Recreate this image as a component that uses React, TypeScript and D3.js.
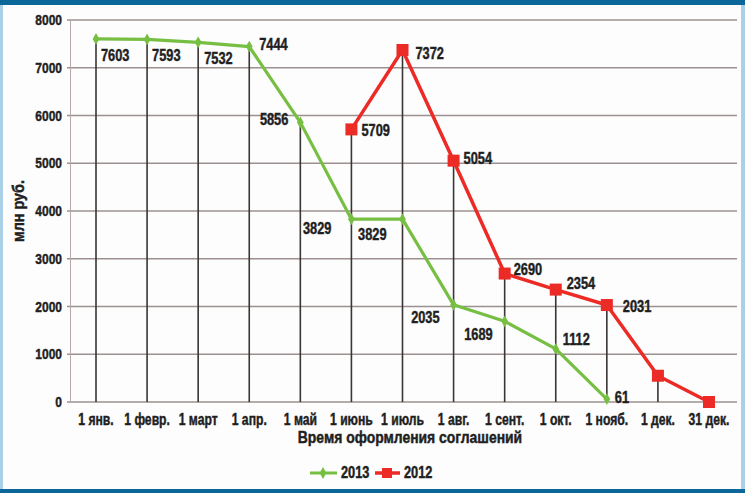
import React, { useEffect, useRef } from 'react';
import * as d3 from 'd3';

// categories (x axis)
const categories = ['1 янв.', '1 февр.', '1 март', '1 апр.', '1 май', '1 июнь', '1 июль', '1 авг.', '1 сент.', '1 окт.', '1 нояб.', '1 дек.', '31 дек.'];

// series values, null = no point
const values2013: (number | null)[] = [7603, 7593, 7532, 7444, 5856, 3829, 3829, 2035, 1689, 1112, 61, null, null];
const values2012: (number | null)[] = [null, null, null, null, null, 5709, 7372, 5054, 2690, 2354, 2031, 550, 0];

// which 2012 points carry a value label
const labeled2012 = [false, false, false, false, false, true, true, true, true, true, true, false, false];

const yTicks = [0, 1000, 2000, 3000, 4000, 5000, 6000, 7000, 8000];

// label placement relative to the point: [dx, dy, anchor]
const labelPos2013: [number, number, string][] = [
  [5, 22, 'start'], [5, 22, 'start'], [6, 22, 'start'], [10, 3, 'start'], [-12, 3, 'end'],
  [-20, 15, 'end'], [-16, 21, 'end'], [-14, 18, 'end'], [-12, 19, 'end'], [7, -4, 'start'], [8, 4, 'start'],
];
const labelPos2012: [number, number, string][] = [
  [0, 0, 'start'], [0, 0, 'start'], [0, 0, 'start'], [0, 0, 'start'], [0, 0, 'start'],
  [10, 7, 'start'], [13, 9, 'start'], [10, 3, 'start'], [9, 1, 'start'], [11, -1, 'start'], [16, 7, 'start'],
];

const GREEN = '#76bf43';
const RED = '#ec2a26';
const INK = '#1f1f1f';
const FONT = "'Liberation Sans', Arial, sans-serif";
const SQUEEZE = 0.8; // condensed look

type Sel = d3.Selection<any, unknown, null, undefined>;

// bold, horizontally condensed text
function addText(g: Sel, px: number, py: number, str: string | number, size: number, anchor = 'start', extra = '', squeeze = SQUEEZE) {
  return g.append('text')
    .attr('transform', `translate(${px},${py}) ${extra} scale(${squeeze},1)`)
    .attr('text-anchor', anchor)
    .attr('font-family', FONT).attr('font-weight', 'bold').attr('font-size', size)
    .attr('fill', INK).attr('stroke', INK).attr('stroke-width', 0.45)
    .text(str);
}

const Chart: React.FC = () => {
  const ref = useRef<SVGSVGElement>(null);

  useEffect(() => {
    const W = 745, H = 493;
    const svg = d3.select(ref.current).attr('width', W).attr('height', H);
    svg.selectAll('*').remove();

    // frame
    svg.append('rect').attr('width', W).attr('height', H).attr('fill', '#fdfdfd');
    svg.append('rect').attr('x', 0).attr('y', 0).attr('width', 3).attr('height', H).attr('fill', '#a9d0e6');
    svg.append('rect').attr('x', W - 4).attr('y', 0).attr('width', 4).attr('height', H).attr('fill', '#a9d0e6');
    svg.append('rect').attr('x', 0).attr('y', 0).attr('width', W).attr('height', 5).attr('fill', '#0b6799');
    svg.append('rect').attr('x', 0).attr('y', H - 4).attr('width', W).attr('height', 4).attr('fill', '#0b6799');

    const x = d3.scalePoint<string>().domain(categories).range([96, 709]);
    const y = d3.scaleLinear().domain([0, 8000]).range([402, 20]);

    const grid = svg.append('g');
    // horizontal gridlines
    grid.selectAll('line.h')
      .data(yTicks)
      .join('line')
      .attr('x1', 67).attr('x2', 737)
      .attr('y1', d => y(d)).attr('y2', d => y(d))
      .attr('stroke', '#9d9090').attr('stroke-width', 1.6);
    // left axis line
    grid.append('line')
      .attr('x1', 70.5).attr('x2', 70.5)
      .attr('y1', y(8000)).attr('y2', y(0))
      .attr('stroke', '#b3a8a8').attr('stroke-width', 1);

    // y tick labels
    const yl = svg.append('g');
    yTicks.forEach(t => addText(yl, 62, y(t) + 5, t, 15, 'end'));

    // drop lines from the highest point of each category
    const tops = categories.map((c, i) => {
      const vs = [values2013[i], values2012[i]].filter(v => v != null) as number[];
      return { c, v: vs.length ? d3.max(vs)! : 0 };
    });
    svg.append('g').selectAll('line')
      .data(tops.filter(d => d.v > 0))
      .join('line')
      .attr('x1', d => x(d.c)!).attr('x2', d => x(d.c)!)
      .attr('y1', d => y(d.v)).attr('y2', y(0))
      .attr('stroke', '#3b3535').attr('stroke-width', 1.6);

    const line = d3.line<{ c: string; v: number | null }>()
      .defined(d => d.v != null)
      .x(d => x(d.c)!)
      .y(d => y(d.v as number));

    const s2013 = categories.map((c, i) => ({ c, v: values2013[i] }));
    const s2012 = categories.map((c, i) => ({ c, v: values2012[i] }));

    // 2013 series
    svg.append('path').datum(s2013)
      .attr('fill', 'none').attr('stroke', GREEN).attr('stroke-width', 3.2)
      .attr('stroke-linejoin', 'round').attr('d', line);
    svg.append('g').selectAll('path')
      .data(s2013.filter(d => d.v != null))
      .join('path')
      .attr('transform', d => `translate(${x(d.c)},${y(d.v as number)})`)
      .attr('d', d3.symbol(d3.symbolDiamond, 40)())
      .attr('fill', GREEN);

    // 2012 series
    svg.append('path').datum(s2012)
      .attr('fill', 'none').attr('stroke', RED).attr('stroke-width', 3.5)
      .attr('stroke-linejoin', 'round').attr('d', line);
    svg.append('g').selectAll('rect')
      .data(s2012.filter(d => d.v != null))
      .join('rect')
      .attr('x', d => x(d.c)! - 6).attr('y', d => y(d.v as number) - 6)
      .attr('width', 12).attr('height', 12)
      .attr('fill', RED);

    // value labels
    const labels = svg.append('g');
    s2013.forEach((d, i) => {
      if (d.v == null) return;
      const [dx, dy, anchor] = labelPos2013[i];
      addText(labels, x(d.c)! + dx, y(d.v) + dy, d.v, 16, anchor);
    });
    s2012.forEach((d, i) => {
      if (d.v == null || !labeled2012[i]) return;
      const [dx, dy, anchor] = labelPos2012[i];
      addText(labels, x(d.c)! + dx, y(d.v) + dy, d.v, 16, anchor);
    });

    // x tick labels
    const xl = svg.append('g');
    categories.forEach(c => addText(xl, x(c)!, 425, c, 16, 'middle', '', 0.76));

    // axis titles
    addText(svg, 410, 443, 'Время оформления соглашений', 16, 'middle', '', 0.87);
    addText(svg, 24, (y(0) + y(8000)) / 2, 'млн руб.', 16, 'middle', 'rotate(-90)', 0.9);

    // legend
    const lg = svg.append('g');
    lg.append('line').attr('x1', 310).attr('x2', 337).attr('y1', 473).attr('y2', 473)
      .attr('stroke', GREEN).attr('stroke-width', 3);
    lg.append('path').attr('transform', 'translate(323,473)')
      .attr('d', d3.symbol(d3.symbolDiamond, 40)()).attr('fill', GREEN);
    addText(lg, 341, 478, '2013', 16);
    lg.append('line').attr('x1', 375).attr('x2', 400).attr('y1', 473).attr('y2', 473)
      .attr('stroke', RED).attr('stroke-width', 3.5);
    lg.append('rect').attr('x', 382).attr('y', 468).attr('width', 10).attr('height', 10).attr('fill', RED);
    addText(lg, 404, 478, '2012', 16);
  }, []);

  return <svg ref={ref}></svg>;
};

export default function App() {
  return (
    <div style={{ position: 'absolute', left: 0, top: 0 }}>
      <Chart />
    </div>
  );
}
